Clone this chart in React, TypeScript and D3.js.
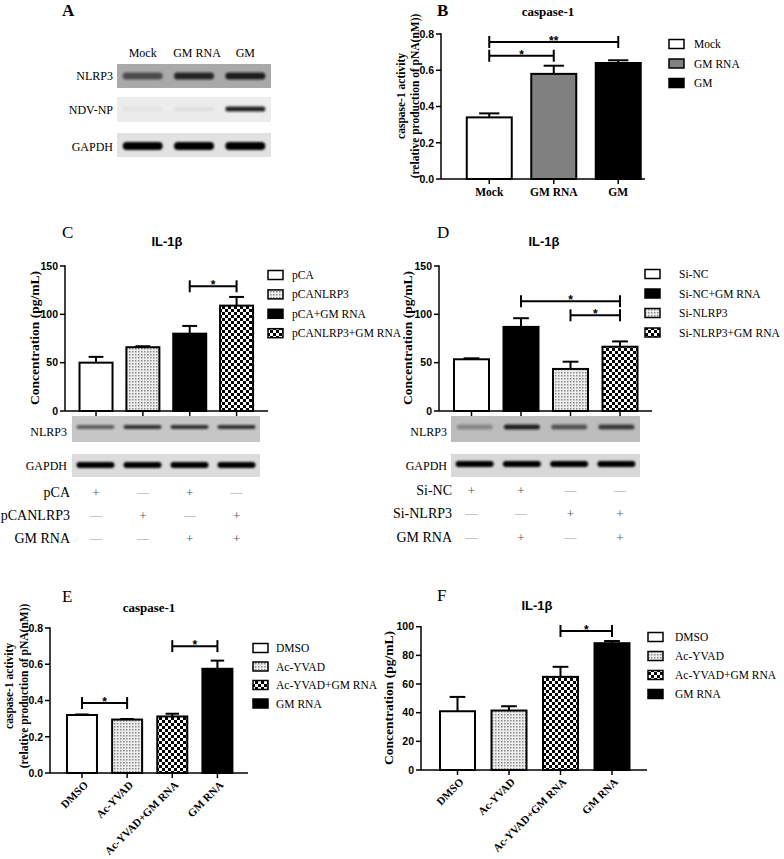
import React from 'react';
import * as d3 from 'd3';

// ---------- Panel A (western blot) ----------
const aLanes = ['Mock', 'GM RNA', 'GM'];
const aRows = ['NLRP3', 'NDV-NP', 'GAPDH'];
const aNLRP3 = [0.6, 0.85, 0.9];
const aNDVNP = [0.03, 0.05, 0.9];
const aGAPDH = [1, 1, 1];

// ---------- Panel B ----------
const bCategories = ['Mock', 'GM RNA', 'GM'];
const bValues = [0.34, 0.58, 0.64];
const bErrors = [0.022, 0.045, 0.015];
const bTicks = [0, 0.2, 0.4, 0.6, 0.8];
const bSigFrom = [0, 0];
const bSigTo = [2, 1];
const bSigLabel = ['**', '*'];
const bSigLevel = [0.756, 0.68];

// ---------- Panel C ----------
const cCategories = ['pCA', 'pCANLRP3', 'pCA+GM RNA', 'pCANLRP3+GM RNA'];
const cValues = [50, 66, 80, 109];
const cErrors = [6, 1, 8, 9];
const cTicks = [0, 50, 100, 150];
const cSigFrom = [2];
const cSigTo = [3];
const cSigLabel = ['*'];
const cSigLevel = [129];
const cNLRP3 = [0.55, 0.8, 0.8, 0.8];
const cGAPDH = [1, 1, 1, 1];
const cTableRows = ['pCA', 'pCANLRP3', 'GM RNA'];
const cTable = [
  ['+', '—', '+', '—'],
  ['—', '+', '—', '+'],
  ['—', '—', '+', '+'],
];

// ---------- Panel D ----------
const dCategories = ['Si-NC', 'Si-NC+GM RNA', 'Si-NLRP3', 'Si-NLRP3+GM RNA'];
const dValues = [53.5, 87, 43.5, 66.5];
const dErrors = [1, 9, 7.5, 5.5];
const dTicks = [0, 50, 100, 150];
const dSigFrom = [1, 2];
const dSigTo = [3, 3];
const dSigLabel = ['*', '*'];
const dSigLevel = [113.5, 99];
const dNLRP3 = [0.3, 0.9, 0.6, 0.75];
const dGAPDH = [1, 1, 1, 1];
const dTableRows = ['Si-NC', 'Si-NLRP3', 'GM RNA'];
const dTable = [
  ['+', '+', '—', '—'],
  ['—', '—', '+', '+'],
  ['—', '+', '—', '+'],
];

// ---------- Panel E ----------
const eCategories = ['DMSO', 'Ac-YVAD', 'Ac-YVAD+GM RNA', 'GM RNA'];
const eValues = [0.32, 0.295, 0.312, 0.575];
const eErrors = [0.003, 0.003, 0.015, 0.045];
const eTicks = [0, 0.2, 0.4, 0.6, 0.8];
const eSigFrom = [0, 2];
const eSigTo = [1, 3];
const eSigLabel = ['*', '*'];
const eSigLevel = [0.386, 0.70];

// ---------- Panel F ----------
const fCategories = ['DMSO', 'Ac-YVAD', 'Ac-YVAD+GM RNA', 'GM RNA'];
const fValues = [41, 41.5, 65, 88.5];
const fErrors = [10, 3, 7, 1.5];
const fTicks = [0, 20, 40, 60, 80, 100];
const fSigFrom = [2];
const fSigTo = [3];
const fSigLabel = ['*'];
const fSigLevel = [97];

type Fill = 'white' | 'gray' | 'black' | 'dots' | 'checker';
const fillOf = (f: Fill) =>
  f === 'white' ? '#fff' : f === 'gray' ? '#808080' : f === 'black' ? '#000' : f === 'dots' ? 'url(#dots)' : 'url(#checker)';

const serif = "'Liberation Serif', 'Times New Roman', serif";
const sans = "'Liberation Sans', Arial, sans-serif";

interface PanelProps {
  categories: string[];
  values: number[];
  errors: number[];
  fills: Fill[];
  yMax: number;
  ticks: number[];
  fmt: (v: number) => string;
  yRange: [number, number];
  axisX: [number, number];
  band: [number, number];
  barW: number;
  sigFrom: number[];
  sigTo: number[];
  sigLabel: string[];
  sigLevel: number[];
  xLabels: 'flat' | 'rot' | 'none';
}

function BarPanel(p: PanelProps) {
  const x = d3.scaleBand<string>().domain(p.categories).range(p.band).padding(0);
  const y = d3.scaleLinear().domain([0, p.yMax]).range(p.yRange);
  const y0 = y(0);
  const cx = (i: number) => (x(p.categories[i]) as number) + x.bandwidth() / 2;
  const capW = p.barW * 0.45;
  return (
    <g>
      {p.categories.map((c, i) => {
        const top = y(p.values[i]);
        const et = y(p.values[i] + p.errors[i]);
        return (
          <g key={c}>
            <line x1={cx(i)} x2={cx(i)} y1={top} y2={et} stroke="#000" strokeWidth={2} />
            <line x1={cx(i) - capW / 2} x2={cx(i) + capW / 2} y1={et} y2={et} stroke="#000" strokeWidth={2} />
            <rect x={cx(i) - p.barW / 2} y={top} width={p.barW} height={y0 - top} fill={fillOf(p.fills[i])} stroke="#000" strokeWidth={2} />
          </g>
        );
      })}
      {/* y axis */}
      <line x1={p.axisX[0]} x2={p.axisX[0]} y1={y(p.yMax) - 0.75} y2={y0} stroke="#000" strokeWidth={1.5} />
      {p.ticks.map((t) => (
        <g key={t}>
          <line x1={p.axisX[0] - 5} x2={p.axisX[0]} y1={y(t)} y2={y(t)} stroke="#000" strokeWidth={1.5} />
          <text x={p.axisX[0] - 7} y={y(t)} dy="0.36em" textAnchor="end" fontFamily={sans} fontWeight="bold" fontSize={10.5}>
            {p.fmt(t)}
          </text>
        </g>
      ))}
      {/* x axis */}
      <line x1={p.axisX[0]} x2={p.axisX[1]} y1={y0} y2={y0} stroke="#000" strokeWidth={1.5} />
      {p.categories.map((c, i) => (
        <line key={c} x1={cx(i)} x2={cx(i)} y1={y0} y2={y0 + 5} stroke="#000" strokeWidth={1.5} />
      ))}
      {p.xLabels === 'flat' &&
        p.categories.map((c, i) => (
          <text key={c} x={cx(i)} y={y0 + 17} textAnchor="middle" fontFamily={serif} fontWeight="bold" fontSize={11.5}>
            {c}
          </text>
        ))}
      {p.xLabels === 'rot' &&
        p.categories.map((c, i) => (
          <text
            key={c}
            transform={`translate(${cx(i) + 4},${y0 + 10}) rotate(-45)`}
            textAnchor="end"
            dy="0.35em"
            fontFamily={serif}
            fontWeight="bold"
            fontSize={11}
          >
            {c}
          </text>
        ))}
      {/* significance brackets */}
      {p.sigFrom.map((a, k) => {
        const xa = cx(a);
        const xb = cx(p.sigTo[k]);
        const yy = y(p.sigLevel[k]);
        return (
          <g key={k}>
            <line x1={xa} x2={xb} y1={yy} y2={yy} stroke="#000" strokeWidth={2} />
            <line x1={xa} x2={xa} y1={yy - 6} y2={yy + 6} stroke="#000" strokeWidth={2} />
            <line x1={xb} x2={xb} y1={yy - 6} y2={yy + 6} stroke="#000" strokeWidth={2} />
            <text x={(xa + xb) / 2} y={yy + 3} textAnchor="middle" fontFamily={sans} fontWeight="bold" fontSize={12}>
              {p.sigLabel[k]}
            </text>
          </g>
        );
      })}
    </g>
  );
}

function Legend({ items, fills, x, y0, dy, tx }: { items: string[]; fills: Fill[]; x: number; y0: number; dy: number; tx: number }) {
  return (
    <g>
      {items.map((it, i) => (
        <g key={it}>
          <rect x={x} y={y0 + i * dy - 4.5} width={15} height={9} fill={fillOf(fills[i])} stroke="#000" strokeWidth={1.5} />
          <text x={tx} y={y0 + i * dy} dy="0.35em" fontFamily={serif} fontSize={11.5}>
            {it}
          </text>
        </g>
      ))}
    </g>
  );
}

function BlotStrip({
  lanes, x0, x1, yTop, yBot, bg, intens, bandY, bandH, bandW, color = '#111',
}: {
  lanes: string[]; x0: number; x1: number; yTop: number; yBot: number; bg: string; intens: number[]; bandY: number; bandH: number; bandW: number; color?: string;
}) {
  const x = d3.scaleBand<string>().domain(lanes).range([x0, x1]).padding(0);
  return (
    <g>
      <rect x={x0} y={yTop} width={x1 - x0} height={yBot - yTop} fill={bg} />
      {lanes.map((l, i) => {
        const c = (x(l) as number) + x.bandwidth() / 2;
        return (
          <rect
            key={l}
            x={c - bandW / 2}
            y={bandY - bandH / 2}
            width={bandW}
            height={bandH}
            rx={bandH / 2}
            fill={color}
            opacity={intens[i]}
            filter="url(#blur)"
          />
        );
      })}
    </g>
  );
}

function Table({ rows, cells, lanes, band, ys, labelX }: { rows: string[]; cells: string[][]; lanes: string[]; band: [number, number]; ys: number[]; labelX: number }) {
  const x = d3.scaleBand<string>().domain(lanes).range(band).padding(0);
  return (
    <g>
      {rows.map((r, ri) => (
        <g key={r}>
          <text x={labelX} y={ys[ri]} dy="0.35em" textAnchor="end" fontFamily={serif} fontSize={14}>
            {r}
          </text>
          {cells[ri].map((s, ci) => (
            <text
              key={ci}
              x={(x(lanes[ci]) as number) + x.bandwidth() / 2}
              y={ys[ri]}
              dy="0.35em"
              textAnchor="middle"
              fontFamily={serif}
              fontSize={s === '+' ? 13 : 12}
              fill={s === '+' ? '#555' : '#999'}
            >
              {s}
            </text>
          ))}
        </g>
      ))}
    </g>
  );
}

function YLabel({ x, y, lines, size }: { x: number[]; y: number; lines: string[]; size: number }) {
  return (
    <g>
      {lines.map((l, i) => (
        <text
          key={i}
          transform={`translate(${x[i]},${y}) rotate(-90)`}
          textAnchor="middle"
          dy="0.35em"
          fontFamily={serif}
          fontWeight="bold"
          fontSize={size}
        >
          {l}
        </text>
      ))}
    </g>
  );
}

export default function App() {
  const f1 = (v: number) => v.toFixed(1);
  const f0 = (v: number) => String(v);
  return (
    <svg width={784} height={859} style={{ position: 'absolute', left: 0, top: 0, background: '#fff' }}>
      <defs>
        <pattern id="dots" width={3} height={3} patternUnits="userSpaceOnUse">
          <rect width={3} height={3} fill="#eeeeee" />
          <rect width={1.5} height={1.5} fill="#8a8a8a" />
        </pattern>
        <pattern id="checker" width={6} height={6} patternUnits="userSpaceOnUse">
          <rect width={6} height={6} fill="#fff" />
          <rect width={3} height={3} fill="#000" />
          <rect x={3} y={3} width={3} height={3} fill="#000" />
        </pattern>
        <filter id="blur" x="-20%" y="-100%" width="140%" height="300%">
          <feGaussianBlur stdDeviation={1.3} />
        </filter>
      </defs>

      {/* ---------- A ---------- */}
      <text x={62} y={16} fontFamily={serif} fontWeight="bold" fontSize={17}>A</text>
      {aLanes.map((l, i) => {
        const x = d3.scaleBand<string>().domain(aLanes).range([117, 271]);
        return (
          <text key={l} x={(x(l) as number) + x.bandwidth() / 2 + (i === 1 ? 3 : 0)} y={57} textAnchor="middle" fontFamily={serif} fontSize={12}>
            {l}
          </text>
        );
      })}
      <BlotStrip lanes={aLanes} x0={117} x1={271} yTop={64} yBot={88} bg="#a9a9a9" intens={aNLRP3} bandY={76} bandH={7} bandW={40} />
      <BlotStrip lanes={aLanes} x0={117} x1={271} yTop={97} yBot={122} bg="#ececec" intens={aNDVNP} bandY={109} bandH={5} bandW={40} />
      <BlotStrip lanes={aLanes} x0={117} x1={271} yTop={133} yBot={157} bg="#e2e2e2" intens={aGAPDH} bandY={146} bandH={8} bandW={40} color="#000" />
      {aRows.map((r, i) => (
        <text key={r} x={113} y={[76, 110, 147][i]} dy="0.35em" textAnchor="end" fontFamily={serif} fontSize={12}>
          {r}
        </text>
      ))}

      {/* ---------- B ---------- */}
      <text x={437} y={16} fontFamily={serif} fontWeight="bold" fontSize={17}>B</text>
      <text x={548} y={16} textAnchor="middle" fontFamily={serif} fontWeight="bold" fontSize={13}>caspase-1</text>
      <YLabel x={[401, 415]} y={96} lines={['caspase-1 activity', '(relative production of pNA(nM))']} size={11.5} />
      <BarPanel
        categories={bCategories} values={bValues} errors={bErrors} fills={['white', 'gray', 'black']}
        yMax={0.8} ticks={bTicks} fmt={f1} yRange={[179, 34]} axisX={[441, 645]} band={[457, 650.5]} barW={45}
        sigFrom={bSigFrom} sigTo={bSigTo} sigLabel={bSigLabel} sigLevel={bSigLevel} xLabels="flat"
      />
      <Legend items={bCategories} fills={['white', 'gray', 'black']} x={669} y0={44} dy={19.5} tx={694} />

      {/* ---------- C ---------- */}
      <text x={62} y={238} fontFamily={serif} fontSize={17}>C</text>
      <text x={167} y={246} textAnchor="middle" fontFamily={sans} fontWeight="bold" fontSize={13}>IL-1β</text>
      <YLabel x={[34]} y={338} lines={['Concentration (pg/mL)']} size={13.5} />
      <BarPanel
        categories={cCategories} values={cValues} errors={cErrors} fills={['white', 'dots', 'black', 'checker']}
        yMax={150} ticks={cTicks} fmt={f0} yRange={[411, 266]} axisX={[65, 268]} band={[72.6, 260]} barW={33}
        sigFrom={cSigFrom} sigTo={cSigTo} sigLabel={cSigLabel} sigLevel={cSigLevel} xLabels="none"
      />
      <Legend items={cCategories} fills={['white', 'dots', 'black', 'checker']} x={268} y0={275} dy={19.4} tx={292} />
      <BlotStrip lanes={cCategories} x0={72} x1={260} yTop={416} yBot={442} bg="#c6c6c6" intens={cNLRP3} bandY={427} bandH={4} bandW={38} />
      <BlotStrip lanes={cCategories} x0={72} x1={260} yTop={454} yBot={477} bg="#dcdcdc" intens={cGAPDH} bandY={465} bandH={6} bandW={38} color="#000" />
      <text x={67} y={432} dy="0.35em" textAnchor="end" fontFamily={serif} fontSize={12}>NLRP3</text>
      <text x={67} y={466} dy="0.35em" textAnchor="end" fontFamily={serif} fontSize={12}>GAPDH</text>
      <Table rows={cTableRows} cells={cTable} lanes={cCategories} band={[72.6, 260]} ys={[492, 515, 538]} labelX={70} />

      {/* ---------- D ---------- */}
      <text x={437} y={238} fontFamily={serif} fontSize={17}>D</text>
      <text x={544} y={246} textAnchor="middle" fontFamily={sans} fontWeight="bold" fontSize={13}>IL-1β</text>
      <YLabel x={[407]} y={338} lines={['Concentration (pg/mL)']} size={13.5} />
      <BarPanel
        categories={dCategories} values={dValues} errors={dErrors} fills={['white', 'black', 'dots', 'checker']}
        yMax={150} ticks={dTicks} fmt={f0} yRange={[411, 266]} axisX={[439, 652]} band={[446.75, 644.75]} barW={35}
        sigFrom={dSigFrom} sigTo={dSigTo} sigLabel={dSigLabel} sigLevel={dSigLevel} xLabels="none"
      />
      <Legend items={dCategories} fills={['white', 'black', 'dots', 'checker']} x={645} y0={274} dy={19.5} tx={679} />
      <BlotStrip lanes={dCategories} x0={451} x1={640} yTop={416} yBot={442} bg="#bdbdbd" intens={dNLRP3} bandY={427} bandH={5} bandW={36} />
      <BlotStrip lanes={dCategories} x0={451} x1={640} yTop={454} yBot={477} bg="#d8d8d8" intens={dGAPDH} bandY={464} bandH={6} bandW={38} color="#000" />
      <text x={447} y={432} dy="0.35em" textAnchor="end" fontFamily={serif} fontSize={12}>NLRP3</text>
      <text x={447} y={466} dy="0.35em" textAnchor="end" fontFamily={serif} fontSize={12}>GAPDH</text>
      <Table rows={dTableRows} cells={dTable} lanes={dCategories} band={[446.75, 644.75]} ys={[490, 513, 537]} labelX={452} />

      {/* ---------- E ---------- */}
      <text x={62} y={602} fontFamily={serif} fontSize={17}>E</text>
      <text x={149} y={612} textAnchor="middle" fontFamily={serif} fontWeight="bold" fontSize={13}>caspase-1</text>
      <YLabel x={[9, 24]} y={686} lines={['caspase-1 activity', '(relative production of pNA(nM))']} size={11.5} />
      <BarPanel
        categories={eCategories} values={eValues} errors={eErrors} fills={['white', 'dots', 'checker', 'black']}
        yMax={0.8} ticks={eTicks} fmt={f1} yRange={[773, 628]} axisX={[50, 248]} band={[59.4, 240]} barW={30}
        sigFrom={eSigFrom} sigTo={eSigTo} sigLabel={eSigLabel} sigLevel={eSigLevel} xLabels="rot"
      />
      <Legend items={eCategories} fills={['white', 'dots', 'checker', 'black']} x={253} y0={648} dy={18.5} tx={276} />

      {/* ---------- F ---------- */}
      <text x={437} y={601} fontFamily={serif} fontSize={17}>F</text>
      <text x={537} y={610} textAnchor="middle" fontFamily={sans} fontWeight="bold" fontSize={13}>IL-1β</text>
      <YLabel x={[388]} y={698} lines={['Concentration (pg/mL)']} size={13.5} />
      <BarPanel
        categories={fCategories} values={fValues} errors={fErrors} fills={['white', 'dots', 'checker', 'black']}
        yMax={100} ticks={fTicks} fmt={f0} yRange={[770, 626.7]} axisX={[421, 647]} band={[431.75, 637.75]} barW={35}
        sigFrom={fSigFrom} sigTo={fSigTo} sigLabel={fSigLabel} sigLevel={fSigLevel} xLabels="rot"
      />
      <Legend items={fCategories} fills={['white', 'dots', 'checker', 'black']} x={648} y0={637} dy={19} tx={675} />
    </svg>
  );
}
